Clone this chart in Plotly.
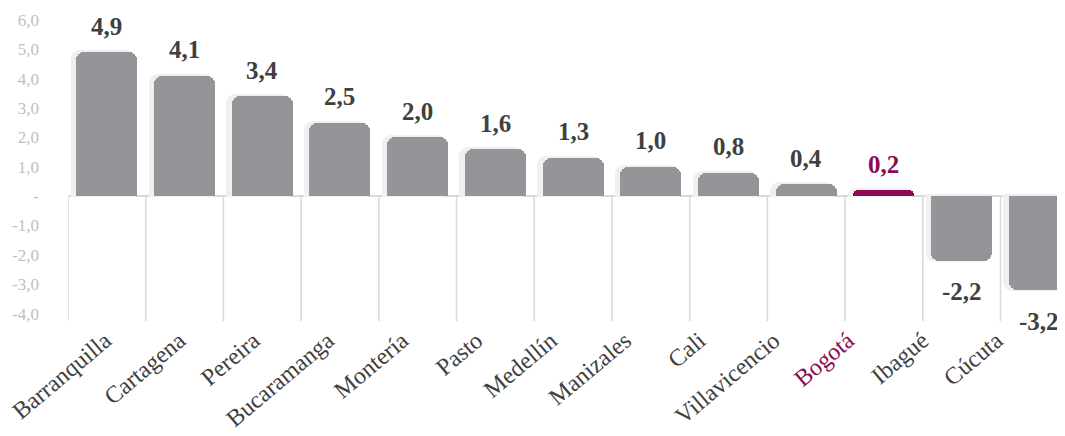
import plotly.graph_objects as go

cities = ["Barranquilla", "Cartagena", "Pereira", "Bucaramanga", "Montería", "Pasto",
          "Medellín", "Manizales", "Cali", "Villavicencio", "Bogotá", "Ibagué", "Cúcuta"]
values = [4.9, 4.1, 3.4, 2.5, 2.0, 1.6, 1.3, 1.0, 0.8, 0.4, 0.2, -2.2, -3.2]
value_labels = ["4,9", "4,1", "3,4", "2,5", "2,0", "1,6", "1,3", "1,0", "0,8", "0,4", "0,2", "-2,2", "-3,2"]
y_ticks = [6, 5, 4, 3, 2, 1, 0, -1, -2, -3, -4]
y_tick_labels = ["6,0", "5,0", "4,0", "3,0", "2,0", "1,0", "-", "-1,0", "-2,0", "-3,0", "-4,0"]
highlight = "Bogotá"

GREY = "#939598"
HL = "#8c0a4f"
TXT = "#404040"
FONT = "Liberation Serif"

colors = [HL if c == highlight else GREY for c in cities]
ticktext = [f'<span style="color:{HL}">{c}</span>' if c == highlight else c for c in cities]
idx = list(range(len(cities)))
w = 0.785

fig = go.Figure()
# soft shadow behind bars
fig.add_trace(go.Bar(
    x=idx, y=values, width=w, offset=-w / 2 - 0.045,
    marker=dict(color="#f0f0f0", line=dict(color="#f0f0f0", width=3), cornerradius=8),
    hoverinfo="skip", showlegend=False,
))
fig.add_trace(go.Bar(
    x=idx, y=values, width=w, offset=-w / 2,
    marker=dict(color=colors, line=dict(width=0), cornerradius=8),
    showlegend=False,
))
# invisible carrier for the category-label axis
fig.add_trace(go.Scatter(
    x=idx, y=values, xaxis="x2", yaxis="y", mode="markers",
    marker=dict(opacity=0), hoverinfo="skip", showlegend=False,
))

ymin, ymax = -4.25, 6.2
shapes = []
for i in range(len(cities) + 1):
    shapes.append(dict(type="line", xref="x", yref="y", x0=i - 0.5, x1=i - 0.5,
                       y0=0, y1=ymin, line=dict(color="#d9d9d9", width=1.5), layer="below"))

annotations = []
for i, (v, lab) in enumerate(zip(values, value_labels)):
    annotations.append(dict(
        x=i, y=v, xref="x", yref="y", text=f"<b>{lab}</b>", showarrow=False,
        yanchor="middle", yshift=26 if v >= 0 else -31,
        font=dict(family=FONT, size=25, color=HL if cities[i] == highlight else TXT),
    ))

# page body adds an 8px offset, so the figure is sized to the remaining area
fig.update_layout(
    width=1057, height=428,
    margin=dict(l=60, r=0, t=6, b=115),
    paper_bgcolor="white", plot_bgcolor="white",
    barmode="overlay", bargap=0,
    shapes=shapes, annotations=annotations,
    font=dict(family=FONT),
    xaxis=dict(
        range=[-0.5, 12.33], tickmode="array", tickvals=idx, showticklabels=False,
        showgrid=False, zeroline=False, showline=False, ticks="", automargin=False,
    ),
    xaxis2=dict(
        overlaying="x", anchor="y", side="bottom",
        range=[-0.5, 12.92], tickmode="array", tickvals=idx, ticktext=ticktext,
        tickangle=-40, tickfont=dict(family=FONT, size=24, color=TXT),
        showgrid=False, zeroline=False, showline=False, ticks="", automargin=False,
        ticklabelstandoff=0, ticklabeloverflow="allow",
    ),
    yaxis=dict(
        range=[ymin, ymax], tickmode="array", tickvals=y_ticks, ticktext=y_tick_labels,
        tickfont=dict(family=FONT, size=17, color="#bfbfbf"),
        showgrid=False, zeroline=True, zerolinecolor="#d9d9d9", zerolinewidth=1.5,
        showline=False, ticks="", ticklabelstandoff=28, automargin=False,
    ),
)

fig.write_html("out.html")
